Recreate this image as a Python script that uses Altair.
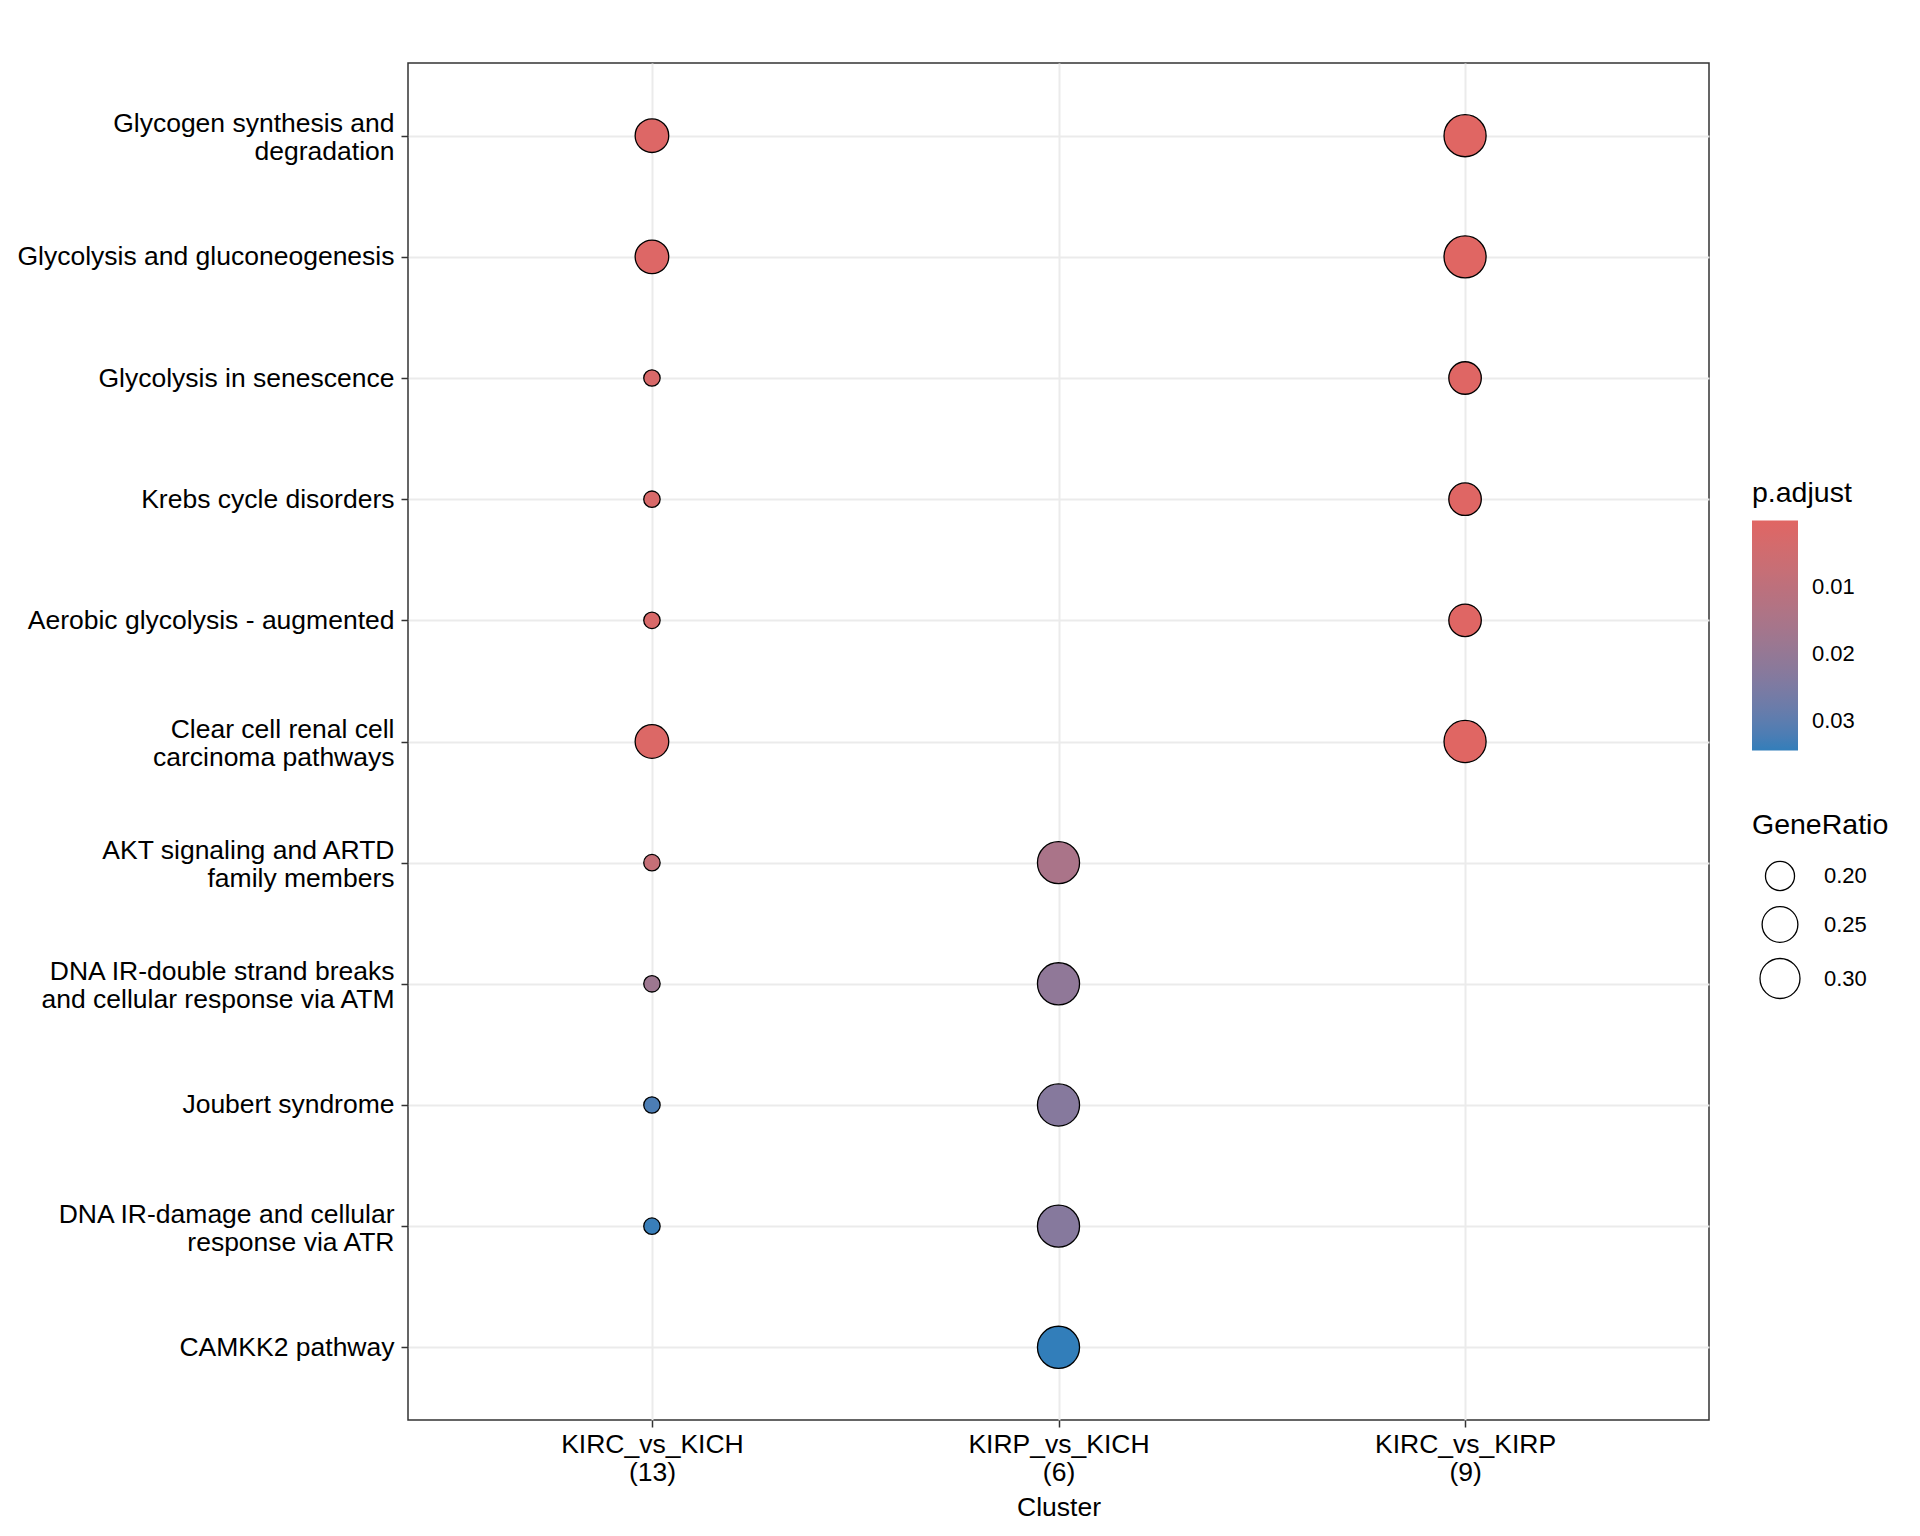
import altair as alt
import pandas as pd

# ---------------- data ----------------
descriptions = [
    "Glycogen synthesis and\ndegradation",
    "Glycolysis and gluconeogenesis",
    "Glycolysis in senescence",
    "Krebs cycle disorders",
    "Aerobic glycolysis - augmented",
    "Clear cell renal cell\ncarcinoma pathways",
    "AKT signaling and ARTD\nfamily members",
    "DNA IR-double strand breaks\nand cellular response via ATM",
    "Joubert syndrome",
    "DNA IR-damage and cellular\nresponse via ATR",
    "CAMKK2 pathway",
]
clusters = ["KIRC_vs_KICH", "KIRP_vs_KICH", "KIRC_vs_KIRP"]
cluster_sizes = [13, 6, 9]

# gene counts per pathway in each cluster (None = not enriched)
count_kirc_kich = [3, 3, 2, 2, 2, 3, 2, 2, 2, 2, None]
count_kirp_kich = [None, None, None, None, None, None, 2, 2, 2, 2, 2]
count_kirc_kirp = [3, 3, 2, 2, 2, 3, None, None, None, None, None]

# adjusted p-values
padj_kirc_kich = [0.0012, 0.0012, 0.0025, 0.0025, 0.0025, 0.0015, 0.008, 0.018, 0.032, 0.0338, None]
padj_kirp_kich = [None, None, None, None, None, None, 0.015, 0.021, 0.023, 0.023, 0.0343]
padj_kirc_kirp = [0.0002, 0.0002, 0.0005, 0.0005, 0.0005, 0.0002, None, None, None, None, None]

size_breaks = [0.20, 0.25, 0.30]
color_breaks = [0.01, 0.02, 0.03]

# ---------------- build table ----------------
cluster_labels = [f"{c}\n({n})" for c, n in zip(clusters, cluster_sizes)]
rows = []
for lab, n, counts, padjs in zip(
    cluster_labels, cluster_sizes,
    [count_kirc_kich, count_kirp_kich, count_kirc_kirp],
    [padj_kirc_kich, padj_kirp_kich, padj_kirc_kirp],
):
    for d, k, p in zip(descriptions, counts, padjs):
        if k is None:
            continue
        rows.append({"Cluster": lab, "Description": d, "GeneRatio": k / n, "padj": p})
df = pd.DataFrame(rows)

FONT = "Liberation Sans"

chart = alt.Chart(df).mark_circle(opacity=1, stroke="black", strokeWidth=1.3).encode(
    x=alt.X(
        "Cluster:N",
        sort=cluster_labels,
        title="Cluster",
        scale=alt.Scale(type="point", padding=0.6),
        axis=alt.Axis(
            labelExpr="split(datum.label, '\\n')",
            labelAngle=0,
            labelLineHeight=28.5,
            labelPadding=4,
            labelBaseline="top",
            labelLimit=0,
            titlePadding=8,
        ),
    ),
    y=alt.Y(
        "Description:N",
        sort=descriptions,
        title=None,
        scale=alt.Scale(type="point", padding=0.6),
        axis=alt.Axis(
            labelExpr="split(datum.label, '\\n')",
            labelLineHeight=28,
            labelPadding=7,
            labelAlign="right",
            labelBaseline="middle",
            labelLimit=0,
            labelOffset=alt.condition("indexof(datum.value, '\\n') >= 0", alt.value(-12), alt.value(0)),
        ),
    ),
    color=alt.Color(
        "padj:Q",
        scale=alt.Scale(domain=[0.0343, 0.0002], range=["#327EBA", "#E06663"], interpolate="lab"),
        legend=alt.Legend(
            title="p.adjust",
            orient="none",
            legendX=1344,
            legendY=415.5,
            direction="vertical",
            gradientLength=230,
            gradientThickness=46,
            gradientStrokeWidth=0,
            values=color_breaks,
            format=".2f",
            labelOffset=14,
            titlePadding=13.5,
        ),
    ),
    size=alt.Size(
        "GeneRatio:Q",
        scale=alt.Scale(type="pow", exponent=-0.5, domain=[2 / 13, 1 / 3], range=[269, 1772], zero=False),
        legend=alt.Legend(
            title="GeneRatio",
            orient="none",
            legendX=1344,
            legendY=748,
            values=size_breaks,
            format=".2f",
            symbolType="circle",
            symbolFillColor="white",
            symbolStrokeColor="black",
            symbolStrokeWidth=1.3,
            symbolOpacity=1,
            symbolOffset=7,
            rowPadding=10,
            labelOffset=23,
            titlePadding=21,
        ),
    ),
).properties(
    width=1301,
    height=1357,
    autosize=alt.AutoSizeParams(type="none"),
    padding={"left": 400, "top": 55, "right": 190, "bottom": 106},
).configure_view(
    stroke="#333333", strokeWidth=1.5
).configure_axis(
    labelFont=FONT, labelFontSize=26.5, labelColor="black",
    titleFont=FONT, titleFontSize=26.5, titleColor="black", titleFontWeight="normal",
    tickColor="#333333", tickSize=7, tickWidth=1.5,
    domain=False, grid=True, gridColor="#EBEBEB", gridWidth=2,
).configure_legend(
    titleFont=FONT, titleFontSize=28.5, titleFontWeight="normal", titleColor="black",
    labelFont=FONT, labelFontSize=22, labelColor="black",
)

chart.save("out.html", embed_options={"renderer": "svg", "actions": False})
